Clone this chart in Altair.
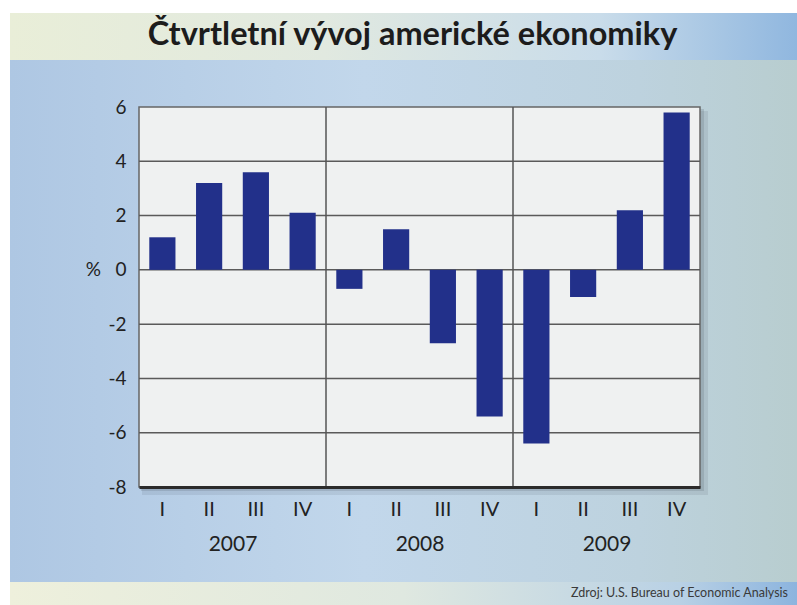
import altair as alt
import pandas as pd

# ---- data ----
years = ["2007", "2008", "2009"]
quarter_names = ["I", "II", "III", "IV"]
growth = [1.2, 3.2, 3.6, 2.1, -0.7, 1.5, -2.7, -5.4, -6.4, -1.0, 2.2, 5.8]
y_ticks = [-8, -6, -4, -2, 0, 2, 4, 6]
grid_values = [-6, -4, -2, 0, 2, 4]
title_text = "Čtvrtletní vývoj americké ekonomiky"
source_text = "Zdroj: U.S. Bureau of Economic Analysis"

periods = [f"{y} {q}" for y in years for q in quarter_names]
bars_df = pd.DataFrame({"period": periods, "growth": growth})
sep_df = pd.DataFrame({"period": [f"{y} I" for y in years[1:]]})
grid_df = pd.DataFrame({"growth": grid_values})
year_df = pd.DataFrame({"year": years})
one = pd.DataFrame({"k": [0]})

W, H = 561, 380
PAD = {"left": 139, "top": 107, "right": 97, "bottom": 118}
FONT = "Lato"
TXT = "#222222"

x_scale = alt.Scale(domain=periods, paddingInner=0, paddingOuter=0)
y_scale = alt.Scale(domain=[-8, 6], nice=False, zero=False)

x_axis = alt.Axis(
    labelExpr="split(datum.label, ' ')[1]", labelAngle=0, ticks=False,
    domain=True, domainColor="#2b2b2b", domainWidth=3,
    labelFont=FONT, labelFontSize=20, labelColor=TXT, labelPadding=12,
    title=None, zindex=1, grid=False,
)
y_axis = alt.Axis(
    values=y_ticks,
    labelExpr="datum.value == 0 ? '%\u00a0\u00a0\u00a00' : '' + datum.value",
    grid=False, ticks=False, domain=False,
    labelFont=FONT, labelFontSize=19, labelColor=TXT, labelPadding=13,
    title=None, zindex=1,
)


def grad(stops):
    return alt.LinearGradient(
        gradient="linear", x1=0, y1=0, x2=1, y2=0,
        stops=[alt.GradientStop(color=c, offset=o) for o, c in stops],
    )


def deco(fill, x, x2, y, y2, opacity=1):
    return alt.Chart(one).mark_rect(fill=fill, opacity=opacity, strokeWidth=0).encode(
        x=alt.value(x), x2=alt.value(x2), y=alt.value(y), y2=alt.value(y2)
    )


bg = deco(grad([(0, "#aec7e3"), (0.45, "#c2d7eb"), (0.8, "#bdd2de"), (1, "#b8cdcf")]),
          -129, 658, -94, 498)
title_band = deco(grad([(0, "#e9eed8"), (0.4, "#e1e9e0"), (0.75, "#c9dcea"), (1, "#90b7df")]),
                  -129, 658, -94, -47)
bottom_band = deco(grad([(0, "#eef0dc"), (0.5, "#dfe8e0"), (0.85, "#b9d1e5"), (1, "#8cb4de")]),
                   -129, 658, 475, 498)
shadow1 = deco("#4a5560", 3, W + 8, 4, H + 8, 0.12)
shadow2 = deco("#4a5560", 2, W + 4, 2, H + 4, 0.18)

plot_rect = alt.Chart(one).mark_rect(fill="#eff1f1", stroke="#666666", strokeWidth=1.5).encode(
    x=alt.value(0), x2=alt.value(W), y=alt.value(0), y2=alt.value(H)
)

grid = alt.Chart(grid_df).mark_rule(color="#5a5a5a", strokeWidth=1.5).encode(
    y=alt.Y("growth:Q", scale=y_scale, axis=y_axis)
)

seps = alt.Chart(sep_df).mark_rule(color="#555555", strokeWidth=1.5).encode(
    x=alt.X("period:N", scale=x_scale, sort=periods, bandPosition=0, axis=x_axis)
)

bars = alt.Chart(bars_df).mark_bar(color="#22308a", width=alt.RelativeBandSize(0.56)).encode(
    x=alt.X("period:N", scale=x_scale, sort=periods, axis=x_axis),
    y=alt.Y("growth:Q", scale=y_scale, axis=y_axis),
)

title_mark = alt.Chart(one).mark_text(
    text=title_text, font=FONT, fontSize=32.5, fontWeight="bold", color="#1c1c1c",
    align="center", baseline="alphabetic",
).encode(x=alt.value(273.5), y=alt.value(-62))

source_mark = alt.Chart(one).mark_text(
    text=source_text, font=FONT, fontSize=12.5, color="#3a3a3a",
    align="right", baseline="middle",
).encode(x=alt.value(649), y=alt.value(486))

inner = alt.layer(bg, title_band, bottom_band, shadow1, shadow2, plot_rect,
                  grid, seps, bars, title_mark, source_mark)

year_layer = alt.Chart(year_df).mark_point(opacity=0).encode(
    x=alt.X(
        "year:N", scale=alt.Scale(domain=years),
        axis=alt.Axis(
            orient="bottom", offset=34, ticks=False, domain=False, labelAngle=0,
            labelFont=FONT, labelFontSize=21, labelColor=TXT, labelPadding=12,
            title=None, zindex=1,
        ),
    ),
    y=alt.value(0),
)

chart = (
    alt.layer(inner, year_layer)
    .resolve_scale(x="independent")
    .properties(width=W, height=H, padding=PAD,
                autosize=alt.AutoSizeParams(type="none"), background="white")
    .configure_view(stroke=None)
)

chart.save("out.html", embed_options={"renderer": "svg", "actions": False})
